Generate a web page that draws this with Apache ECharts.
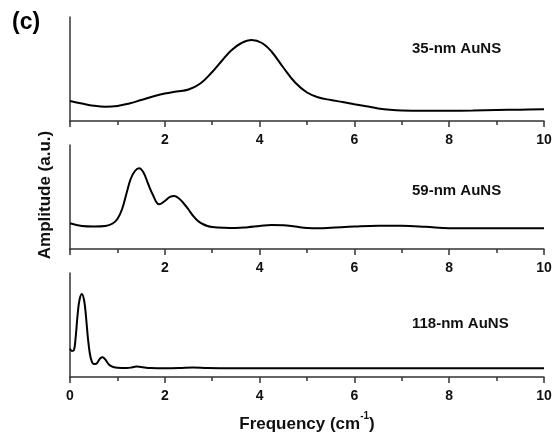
<!DOCTYPE html>
<html>
<head>
<meta charset="utf-8">
<script src="https://cdn.jsdelivr.net/npm/echarts@6/dist/echarts.min.js"></script>
<style>
html,body{margin:0;padding:0;background:#fff;}
#chart{width:560px;height:441px;}
</style>
</head>
<body>
<div id="chart"></div>
<script>
// Panel labels
const panelNames = ['35-nm AuNS', '59-nm AuNS', '118-nm AuNS'];
const xTickLabels = ['0', '2', '4', '6', '8', '10'];

// 35-nm AuNS
const freq35 = [0, 0.25, 0.5, 0.75, 1.0, 1.25, 1.5, 1.75, 2.0, 2.25, 2.5, 2.75, 3.0, 3.2, 3.4, 3.6, 3.83, 4.05, 4.25, 4.5, 4.75, 5.0, 5.25, 5.5, 5.75, 6.0, 6.25, 6.5, 6.75, 7.0, 7.5, 8.0, 8.5, 9.0, 9.5, 10];
const amp35 = [20, 17.5, 15.3, 14.3, 15, 17.5, 21, 24.5, 27.5, 29.5, 31.5, 37.5, 49, 60, 70.5, 77.5, 81, 78, 69.5, 53.5, 38.5, 28.5, 23.5, 21, 19, 16.8, 14.7, 12.6, 11.2, 10.5, 10.3, 10.3, 10.5, 11, 11.3, 11.7];

// 59-nm AuNS
const freq59 = [0, 0.25, 0.5, 0.75, 0.9, 1.0, 1.1, 1.2, 1.28, 1.37, 1.46, 1.55, 1.65, 1.75, 1.88, 2.0, 2.1, 2.2, 2.3, 2.4, 2.5, 2.6, 2.7, 2.8, 2.9, 3.0, 3.25, 3.5, 3.75, 4.0, 4.25, 4.5, 4.75, 5.0, 5.25, 5.5, 6.0, 6.5, 7.0, 7.5, 8.0, 8.5, 9.0, 9.5, 10];
const amp59 = [25.7, 23, 22.5, 23, 25.5, 30, 40, 57, 70, 78, 80.7, 76.5, 65, 54, 44.7, 48, 51.8, 53, 50.5, 45.5, 39.5, 33, 28, 25, 23, 22, 21.2, 21, 21.8, 23, 24, 23.8, 22.5, 21, 20.7, 21.2, 22.5, 23.3, 23.2, 22.2, 20.8, 20.7, 20.7, 20.7, 20.7];

// 118-nm AuNS
const freq118 = [0, 0.04, 0.08, 0.12, 0.16, 0.2, 0.25, 0.3, 0.34, 0.38, 0.42, 0.46, 0.5, 0.55, 0.6, 0.64, 0.69, 0.74, 0.78, 0.82, 0.87, 0.93, 1.0, 1.2, 1.3, 1.4, 1.5, 1.7, 2.0, 2.3, 2.6, 2.9, 3.5, 4, 5, 6, 7, 8, 9, 10];
const amp118 = [28.3, 26, 26.5, 40, 62, 77, 83, 76, 59, 38, 23, 15.5, 13, 13.2, 16, 18.7, 19.8, 17.8, 15, 12.5, 10.8, 9.7, 9.2, 9, 9.5, 10.5, 10, 9, 8.8, 9, 9.5, 8.9, 8.7, 8.7, 8.7, 8.7, 8.7, 8.7, 8.7, 8.7];

const freqs = [freq35, freq59, freq118];
const amps = [amp35, amp59, amp118];

const FONT = '"Liberation Sans", Arial, Helvetica, sans-serif';
const gridTops = [17, 145, 273];
const axisColor = '#333';

const chart = echarts.init(document.getElementById('chart'), null, {renderer: 'canvas'});

const grids = gridTops.map(t => ({left: 70, top: t, width: 474, height: 104, containLabel: false}));
const xAxes = gridTops.map((t, i) => ({
  type: 'value', gridIndex: i, min: 0, max: 10, interval: 2,
  axisLine: {show: true, onZero: false, lineStyle: {color: axisColor, width: 1.5}},
  axisTick: {show: true, inside: false, length: 6, lineStyle: {color: axisColor, width: 1.5}},
  minorTick: {show: true, splitNumber: 2, length: 4, lineStyle: {color: axisColor, width: 1.5}},
  splitLine: {show: false},
  minorSplitLine: {show: false},
  axisLabel: {
    show: true, margin: 12, color: '#111', fontSize: 14, fontWeight: 'bold', fontFamily: FONT,
    formatter: v => {
      const s = xTickLabels.find(l => Number(l) === v);
      if (i < 2 && v === 0) return '';
      return s === undefined ? '' : s;
    }
  }
}));
const yAxes = gridTops.map((t, i) => ({
  type: 'value', gridIndex: i, min: 0, max: 104,
  axisLine: {show: true, lineStyle: {color: axisColor, width: 1.5}},
  axisTick: {show: false}, axisLabel: {show: false}, splitLine: {show: false}
}));
const series = freqs.map((fx, i) => ({
  type: 'line', xAxisIndex: i, yAxisIndex: i,
  data: fx.map((x, k) => [x, amps[i][k]]),
  smooth: 0.4, showSymbol: false, symbol: 'none',
  lineStyle: {color: '#000', width: 2}, silent: true, animation: false
}));

const labelY = [49, 191, 324];
const graphic = [
  {type: 'text', left: 12, top: 11, style: {text: '(c)', font: 'bold 23px ' + FONT, fill: '#000'}},
  ...panelNames.map((n, i) => ({
    type: 'text', x: 412, y: labelY[i],
    style: {text: n, font: 'bold 15px ' + FONT, fill: '#111', textVerticalAlign: 'middle', verticalAlign: 'middle'}
  })),
  {type: 'text', x: 45, y: 195, rotation: Math.PI / 2,
   style: {text: 'Amplitude (a.u.)', font: 'bold 17px ' + FONT, fill: '#111', align: 'center', verticalAlign: 'middle', textAlign: 'center', textVerticalAlign: 'middle'}},
  {type: 'text', x: 307, y: 422,
   style: {
     text: '{a|Frequency (cm}{s|-1}{a|)}',
     align: 'center', verticalAlign: 'middle', textAlign: 'center', textVerticalAlign: 'middle',
     rich: {
       a: {font: 'bold 17px ' + FONT, fill: '#111', lineHeight: 22, verticalAlign: 'bottom'},
       s: {font: 'bold 10px ' + FONT, fill: '#111', lineHeight: 22, verticalAlign: 'top', padding: [0, 0, 0, 0]}
     }
   }}
];

chart.setOption({
  animation: false,
  backgroundColor: '#fff',
  grid: grids, xAxis: xAxes, yAxis: yAxes, series: series, graphic: graphic
});
</script>
</body>
</html>
